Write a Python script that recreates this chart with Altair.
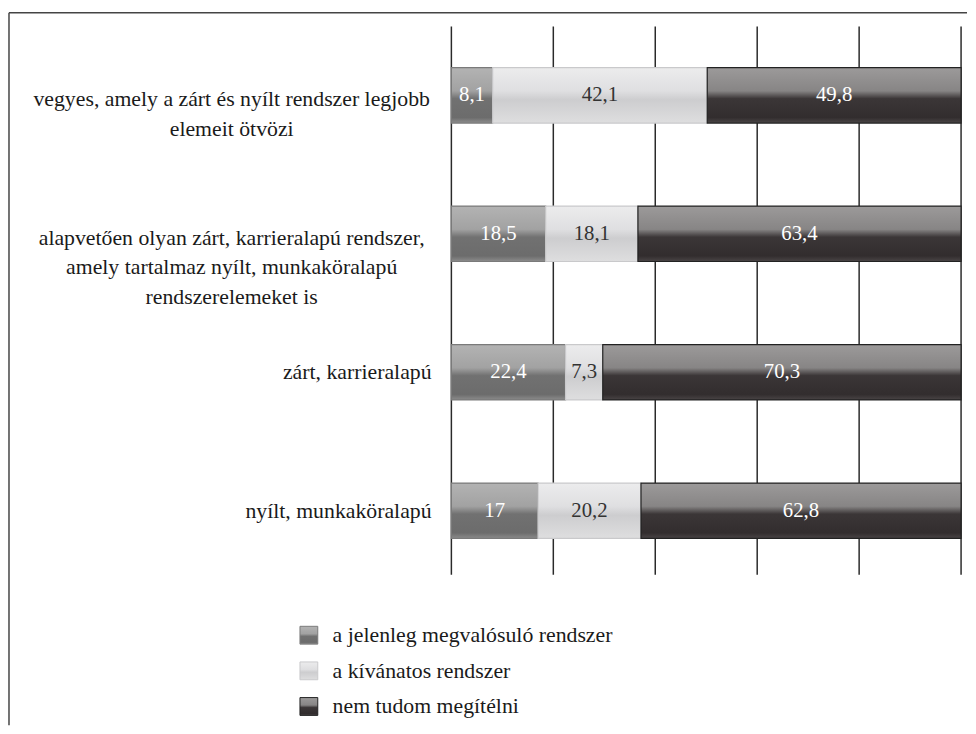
import altair as alt
import pandas as pd

categories = [
    "vegyes, amely a zárt és nyílt rendszer legjobb\nelemeit ötvözi",
    "alapvetően olyan zárt, karrieralapú rendszer,\namely tartalmaz nyílt, munkaköralapú\nrendszerelemeket is",
    "zárt, karrieralapú",
    "nyílt, munkaköralapú",
]
series = ["a jelenleg megvalósuló rendszer", "a kívánatos rendszer", "nem tudom megítélni"]
current = [8.1, 18.5, 22.4, 17]
desired = [42.1, 18.1, 7.3, 20.2]
unknown = [49.8, 63.4, 70.3, 62.8]
ticks = [0, 20, 40, 60, 80, 100]

rows = []
for ci, cat in enumerate(categories):
    for si, vals in enumerate([current, desired, unknown]):
        rows.append({"cat": cat, "series": series[si], "order": si, "value": vals[ci]})
df = pd.DataFrame(rows)
cat_df = pd.DataFrame({"cat": categories, "multi": ["\n" in c for c in categories]})
leg_df = pd.DataFrame({"series": series, "order": [0, 1, 2]})
tick_df = pd.DataFrame({"t": ticks})
one = pd.DataFrame({"a": [0]})

FONT = "Liberation Serif"


def grad(stops):
    return {"gradient": "linear", "x1": 0, "y1": 0, "x2": 0, "y2": 1,
            "stops": [{"offset": o, "color": c} for o, c in stops]}


fills = [
    grad([(0, "#b3b3b3"), (0.42, "#a2a2a2"), (0.56, "#717171"), (0.9, "#6c6c6c"), (1, "#8c8c8c")]),
    grad([(0, "#ececed"), (0.42, "#dfdfe1"), (0.58, "#cdcdcf"), (1, "#dededf")]),
    grad([(0, "#9c9a9a"), (0.42, "#878585"), (0.56, "#3b3637"), (0.9, "#322d2e"), (1, "#4a4546")]),
]
strokes = ["#7a7a7a", "#c9c9cb", "#222222"]
text_colors = ["white", "#333333", "white"]

xscale = alt.Scale(domain=[0, 100], nice=False)
yenc = alt.Y("cat:N", sort=categories,
             scale=alt.Scale(paddingInner=0.6, paddingOuter=0.28, align=0.53), axis=None)

grid = alt.Chart(tick_df).mark_rule(color="#2a2a2a", strokeWidth=1.5).encode(
    x=alt.X("t:Q", scale=xscale, axis=None)
)
layers = [grid]

base = alt.Chart(df).transform_stack(
    stack="value", groupby=["cat"], as_=["x0", "x1"], sort=[alt.SortField("order")]
).transform_calculate(
    mid="(datum.x0 + datum.x1) / 2",
    lbl="replace(toString(datum.value), '.', ',')",
)

for si in range(3):
    sub = base.transform_filter(alt.datum.order == si)
    bar = sub.mark_bar(fill=fills[si], stroke=strokes[si], strokeWidth=1.2).encode(
        x=alt.X("x0:Q", scale=xscale, axis=None),
        x2="x1:Q",
        y=yenc,
    )
    txt = sub.mark_text(font=FONT, fontSize=21, color=text_colors[si]).encode(
        x=alt.X("mid:Q", scale=xscale, axis=None), y=yenc, text="lbl:N"
    )
    layers += [bar, txt]

# category labels
multi_lbl = alt.Chart(cat_df).transform_filter(alt.datum.multi).mark_text(
    font=FONT, fontSize=22, lineBreak="\n", lineHeight=30, align="center", dy=4,
    color="#1a1a1a"
).encode(x=alt.value(-222), y=yenc, text="cat:N")
single_lbl = alt.Chart(cat_df).transform_filter(~alt.datum.multi).mark_text(
    font=FONT, fontSize=22, align="right", color="#1a1a1a"
).encode(x=alt.value(-20), y=yenc, text="cat:N")
layers += [multi_lbl, single_lbl]

# legend
leg_y = [615, 651, 687]
for si in range(3):
    d = leg_df[leg_df.order == si]
    sw = alt.Chart(d).mark_rect(fill=fills[si], stroke=strokes[si], strokeWidth=1).encode(
        x=alt.value(-153), x2=alt.value(-135),
        y=alt.value(leg_y[si] - 9), y2=alt.value(leg_y[si] + 9),
    )
    lt = alt.Chart(d).mark_text(font=FONT, fontSize=22, align="left", color="#1a1a1a").encode(
        x=alt.value(-120), y=alt.value(leg_y[si]), text="series:N"
    )
    layers += [sw, lt]

# frame (top and left edges)
frame_top = alt.Chart(one).mark_rule(color="#444444", strokeWidth=1.5).encode(
    x=alt.value(-447), x2=alt.value(521), y=alt.value(-14)
)
frame_left = alt.Chart(one).mark_rule(color="#444444", strokeWidth=1.5).encode(
    x=alt.value(-447), y=alt.value(-14), y2=alt.value(706)
)
layers += [frame_top, frame_left]

chart = alt.layer(*layers).properties(
    width=515, height=554, padding=0,
    view=alt.ViewBackground(strokeWidth=0),
)

chart.save("out.html", embed_options={"renderer": "svg", "actions": False})
